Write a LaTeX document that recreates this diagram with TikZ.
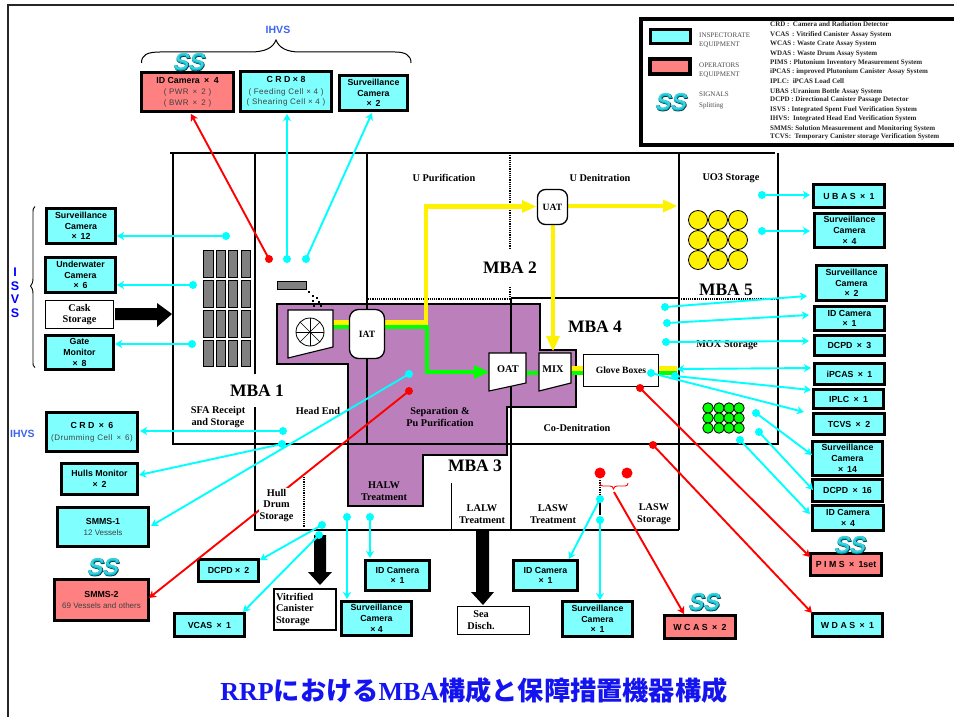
\documentclass[tikz,border=0pt]{standalone}
\usepackage{fontspec}
\setmainfont{Liberation Serif}
\setsansfont{Liberation Sans}
\newfontfamily\cjk{Noto Sans CJK JP}
\newfontface\ssa[FakeSlant=0.22,FakeBold=6.5]{Liberation Sans}
\newfontface\ssb[FakeSlant=0.22,FakeBold=4]{Liberation Sans}
\newfontface\ssc[FakeSlant=0.22]{Liberation Sans}
\usetikzlibrary{arrows.meta}
\definecolor{cyn}{HTML}{00FFFF}
\definecolor{cyfill}{HTML}{80FFFF}
\definecolor{rdfill}{HTML}{FF8080}
\definecolor{purp}{HTML}{BB80BB}
\definecolor{grayb}{HTML}{808080}
\definecolor{blu}{HTML}{3C64F0}
\definecolor{ttl}{HTML}{1414F0}
\definecolor{sstl}{HTML}{00C0D0}
\definecolor{ssdk}{HTML}{103040}
\tikzset{
  cbox/.style={draw=black,line width=3pt,fill=cyfill,inner sep=0pt,align=center,font=\sffamily\bfseries\fontsize{8.8}{10.7}\selectfont},
  rbox/.style={cbox,fill=rdfill},
  wbox/.style={draw=black,line width=1.7pt,fill=white,inner sep=0pt,align=center,font=\bfseries\fontsize{10.3}{11.8}\selectfont},
  pbox/.style={draw=black,line width=1.3pt,fill=white,inner sep=0pt,align=center,font=\bfseries\fontsize{9.6}{10.5}\selectfont},
  lab/.style={inner sep=0pt,align=center,font=\bfseries\fontsize{10.3}{11.7}\selectfont},
  mba/.style={inner sep=0pt,font=\bfseries\fontsize{17.5}{19}\selectfont},
  leg/.style={inner sep=0pt,anchor=base west,font=\bfseries\fontsize{7}{8}\selectfont,text=black!85},
  legl/.style={inner sep=0pt,anchor=base west,font=\fontsize{7}{8}\selectfont,text=black!70},
  wall/.style={line width=2.4pt,black},
  thin wall/.style={line width=1.2pt,black,densely dotted},
  cyline/.style={draw=cyn,line width=1.9pt,-{Stealth[inset=2pt,length=7pt,width=8pt]}},
  rdline/.style={draw=red,line width=1.9pt,-{Stealth[inset=2pt,length=7pt,width=8pt]}},
  cydot/.style={circle,fill=cyn,inner sep=0pt,minimum size=8pt},
  rddot/.style={circle,fill=red,inner sep=0pt,minimum size=8pt},
  bigred/.style={circle,fill=red,inner sep=0pt,minimum size=11pt},
  ylw/.style={draw=yellow,line width=4.5pt},
  grn/.style={draw=green,line width=4.5pt},
  rack/.style={draw=black,line width=.7pt,fill=grayb},
  yball/.style={circle,draw=black,line width=.8pt,fill=yellow,inner sep=0pt,minimum size=19pt},
  gball/.style={circle,draw=black,line width=.8pt,fill=green,inner sep=0pt,minimum size=10.5pt},
}
\newcommand{\subt}{\mdseries\fontsize{8}{10.2}\selectfont\color{black!75}\addfontfeature{LetterSpace=6}}
\newcommand{\X}{\hspace{.5em}×\hspace{.5em}}
\newcommand{\bx}[7]{%
  \pgfmathsetmacro\bw{#4-#2-3}\pgfmathsetmacro\bh{#5-#3-3}%
  \node[#6,minimum width=\bw pt,minimum height=\bh pt] (#1) at ({(#2+#4)/2},{(#3+#5)/2}) {#7};}
\newcommand{\lnk}[7]{% style, dot style, dot name, dx, dy, tx, ty
  \node[#2] (#3) at (#4,#5) {};
  \coordinate (#3t) at (#6,#7);
  \draw[#1] (#3.center) -- (#3t);}
\newcommand{\ssmark}[3]{%
  \node[inner sep=0pt,text=ssdk] (#1a) at (#2+.5,#3+.5) {\fontsize{23}{23}\ssa SS};
  \node[inner sep=0pt,text=sstl] (#1b) at (#2,#3) {\fontsize{23}{23}\ssb SS};
  \node[inner sep=0pt,text=white!25!sstl] (#1c) at (#2,#3) {\fontsize{23}{23}\ssc SS};}
\begin{document}
\begin{tikzpicture}[x=1pt,y=-1pt]
\useasboundingbox (0,0) rectangle (954,717);
\fill[white] (0,0) rectangle (954,717);
% outer frame
\draw[line width=2pt,black!85] (8,717) -- (8,5.5) -- (954,5.5);
% purple area
\draw[line width=1.4pt,black,fill=purp] (277,304) -- (540,304) -- (540,350) -- (576,350) -- (576,407) -- (507,407) -- (507,455) -- (423,455) -- (423,506) -- (348,506) -- (348,364) -- (277,364) -- cycle;
% walls
\draw[wall] (170,153) -- (775,153);
\draw[wall] (173,153) -- (173,444) -- (778,444);
\draw[wall] (778,153) -- (778,445);
\draw[wall] (255,153) -- (255,374);
\draw[wall] (255,407) -- (255,530) -- (679,530);
\draw[wall] (367,153) -- (367,445);
\draw[wall] (679,153) -- (679,530);
\draw[wall] (511,298) -- (679,298);
\draw[wall] (511,298) -- (511,530);
\draw[thin wall] (368,299) -- (511,299);
\draw[thin wall] (679,299) -- (778,299);
\draw[thin wall] (510,153) -- (510,248);
\draw[thin wall] (510,287) -- (510,298);
\draw[thin wall] (304,477) -- (304,527);
\draw[black,line width=1pt] (451,483) -- (451,530);
% spent fuel racks
\foreach \xa/\xb in {203/213,216/225,228/237,241/250}
  \foreach \ya/\yb in {250/277,280/307,310/337,340/366}
    \draw[rack] (\xa,\ya) rectangle (\xb,\yb);
\draw[rack] (277.5,281) rectangle (306,289);
\foreach \px/\py in {309/292,313/296,317/298,313/301,319/302,317/304,314/306,321/306}
  \fill[black] (\px-1.2,\py-1.2) rectangle (\px+1.2,\py+1.2);
% process streams
\draw[ylw] (333,322.5) -- (349,322.5);
\draw[grn] (333,327) -- (349,327);
\draw[ylw] (385,322.5) -- (426,322.5) -- (426,206.5) -- (525,206.5);
\draw[grn] (385,327) -- (427,327) -- (427,372) -- (476,372);
\fill[green] (489,372) -- (474,365) -- (474,379) -- cycle;
\fill[yellow] (536,206.5) -- (522,200) -- (522,213) -- cycle;
\draw[ylw] (568,206) -- (665,206);
\fill[yellow] (677,206) -- (663,199.5) -- (663,212.5) -- cycle;
\draw[ylw] (553,225) -- (553,338);
\fill[yellow] (553,351) -- (546,336) -- (560,336) -- cycle;
\draw[grn] (526,373) -- (539,373);
\draw[ylw] (571,368.5) -- (583,368.5);
\draw[grn] (571,373) -- (583,373);
\draw[ylw] (659,368.5) -- (677,368.5);
\draw[grn] (659,373) -- (677,373);
% equipment in the cell
\draw[line width=1.1pt,black,fill=white] (288,310) -- (333,310) -- (333,347) -- (288,358) -- cycle;
\draw[black,line width=.8pt] (310,332) circle (14);
\foreach \a in {0,45,...,135} \draw[black,line width=.7pt] ({310+14*cos(\a)},{332+14*sin(\a)}) -- ({310-14*cos(\a)},{332-14*sin(\a)});
\node[pbox,rounded corners=9pt,minimum width=35pt,minimum height=49pt] (iat) at (367,334) {IAT};
\node[pbox,rounded corners=8pt,minimum width=30pt,minimum height=35pt] (uat) at (552.5,207) {UAT};
\draw[line width=1.1pt,black,fill=white] (489,353) -- (526,353) -- (526,383) -- (489,391) -- cycle;
\node[lab] (oat) at (508,369) {OAT};
\draw[line width=1.1pt,black,fill=white] (539,353) -- (571,353) -- (571,383) -- (539,391) -- cycle;
\node[lab] (mix) at (553,369) {MIX};
\node[pbox,minimum width=75pt,minimum height=32pt] (glove) at (621,370.5) {Glove Boxes};
% storage items
\foreach \cx in {698,718,738} \foreach \cy in {220,240,260} \node[yball] at (\cx,\cy) {};
\foreach \cx in {708,719,729,739} \foreach \cy in {408,418,428} \node[gball] at (\cx,\cy) {};
% black arrows
\fill[black] (115,308) -- (157,308) -- (157,303) -- (172,314) -- (157,327) -- (157,320) -- (115,320) -- cycle;
\fill[black] (314,535) -- (326,535) -- (326,572) -- (332,572) -- (320,585) -- (308,572) -- (314,572) -- cycle;
\fill[black] (476,531) -- (489,531) -- (489,592) -- (494,592) -- (483,605) -- (471,592) -- (476,592) -- cycle;
% zone labels
\node[lab] (l1) at (444,178) {U Purification};
\node[lab] (l2) at (600,178) {U Denitration};
\node[lab] (l3) at (731,178) {UO3 Storage};
\node[lab] (l4) at (727,345) {MOX Storage};
\node[lab] (l5) at (218,417) {SFA Receipt\\and Storage};
\node[lab] (l6) at (318,411) {Head End};
\node[lab] (l7) at (440,417) {Separation \&\\Pu Purification};
\node[lab] (l8) at (384,491) {HALW\\Treatment};
\node[lab] (l9) at (482,514) {LALW\\Treatment};
\node[lab] (l10) at (553,514) {LASW\\Treatment};
\node[lab] (l11) at (654,514) {LASW\\Storage};
\node[lab] (l12) at (577,428) {Co-Denitration};
\node[mba] (m1) at (257,391) {MBA 1};
\node[mba] (m2) at (510,268) {MBA 2};
\node[mba] (m3) at (475,466) {MBA 3};
\node[mba] (m4) at (595,327) {MBA 4};
\node[mba] (m5) at (726,290) {MBA 5};
% boxes
\bx{b1}{140}{71}{235}{113}{rbox}{ID Camera\X 4\\[1pt]{\subt ( PWR\X 2 )}\\{\subt ( BWR\X 2 )}}
\bx{b2}{239}{70}{333}{113}{cbox}{C R D × 8\\[1pt]{\subt ( Feeding Cell × 4 )}\\{\subt ( Shearing Cell × 4 )}}
\bx{b3}{338}{74}{409}{112}{cbox}{Surveillance\\Camera\\× \,2}
\bx{b4}{45}{207}{117}{245}{cbox}{Surveillance\\Camera\\× \,12}
\bx{b5}{44}{256}{117}{294}{cbox}{Underwater\\Camera\\× \,6}
\bx{b6}{44}{299}{115}{330}{wbox}{Cask\\Storage}
\bx{b7}{44}{334}{115}{371}{cbox}{Gate\\Monitor\\× \,8}
\bx{b8}{45}{411}{139}{453}{cbox}{C R D\X 6\\[1pt]{\subt (Drumming Cell\X 6)}}
\bx{b9}{60}{462}{139}{496}{cbox}{Hulls Monitor\\× \,2}
\bx{b10}{56}{506}{150}{548}{cbox}{SMMS-1\\[1pt]{\subt\addfontfeature{LetterSpace=0} 12 Vessels}}
\bx{b11}{53}{578}{150}{622}{rbox}{SMMS-2\\[1pt]{\subt\addfontfeature{LetterSpace=0} 69 Vessels and others}}
\bx{b12}{197}{558}{260}{583}{cbox}{DCPD × \,2}
\bx{b13}{173}{612}{246}{638}{cbox}{VCAS\X 1}
\node[wbox,minimum width=62pt,minimum height=41pt,align=left,text width=58pt] (b14) at (305,609.5) {Vitrified\\Canister\\Storage};
\bx{b15}{340}{600}{413}{637}{cbox}{Surveillance\\Camera\\× 4}
\bx{b16}{364}{559}{431}{592}{cbox}{ID Camera\\× \,1}
\node[wbox,minimum width=72pt,minimum height=28pt] (b17) at (493.5,620.5) {};
\node[lab] (b17t) at (481,620) {Sea\\Disch.};
\bx{b18}{512}{559}{579}{592}{cbox}{ID Camera\\× \,1}
\bx{b19}{561}{600}{634}{638}{cbox}{Surveillance\\Camera\\× \,1}
\bx{b20}{663}{614}{737}{640}{rbox}{W C A S\X 2}
\bx{b21}{811}{612}{884}{638}{cbox}{W D A S\X 1}
\bx{b22}{809}{552}{883}{577}{rbox}{P I M S\X 1set}
\bx{b23}{811}{504}{885}{532}{cbox}{ID Camera\\× \,4}
\bx{b24}{811}{478}{884}{503}{cbox}{DCPD\X 16}
\bx{b25}{811}{440}{884}{477}{cbox}{Surveillance\\Camera\\× \,14}
\bx{b26}{812}{412}{886}{436}{cbox}{TCVS\X 2}
\bx{b27}{812}{388}{885}{410}{cbox}{IPLC\X 1}
\bx{b28}{813}{362}{886}{386}{cbox}{iPCAS\X 1}
\bx{b29}{813}{334}{886}{357}{cbox}{DCPD\X 3}
\bx{b30}{813}{305}{886}{332}{cbox}{ID Camera\\× \,1}
\bx{b31}{815}{264}{888}{302}{cbox}{Surveillance\\Camera\\× \,2}
\bx{b32}{813}{212}{886}{249}{cbox}{Surveillance\\Camera\\× \,4}
\bx{b33}{812}{183}{886}{209}{cbox}{U B A S\X 1}
% braces and side labels
\draw[black,line width=1pt] (141.5,63) .. controls (141.5,55) and (147,52) .. (160,52) -- (250,52) .. controls (265,52) and (273,48) .. (276,40) .. controls (279,48) and (287,52) .. (300,52) -- (395,52) .. controls (405,52) and (411,55) .. (411,63);
\draw[black,line width=.9pt] (35,206.5) .. controls (33,207) and (33,210) .. (33,214) -- (33,278) .. controls (33,282) and (32,285) .. (30.5,286) .. controls (32,287) and (33,290) .. (33,294) -- (33,360) .. controls (33,365) and (33,367) .. (35,367.5);
\node[inner sep=0pt,text=blu,font=\sffamily\bfseries\fontsize{10.5}{12}\selectfont] (ih1) at (278,30) {IHVS};
\node[inner sep=0pt,text=blu,font=\sffamily\bfseries\fontsize{10.5}{12}\selectfont] (ih2) at (22.5,433.5) {IHVS};
\foreach \ch/\yy in {I/272,S/286,V/299,S/313} \node[inner sep=0pt,text=blue,font=\sffamily\bfseries\fontsize{12.5}{13}\selectfont] at (15,\yy) {\ch};
% connectors
\lnk{rdline}{rddot}{d1}{269}{259}{191}{114}
\lnk{cyline}{cydot}{d2}{287}{259}{287}{114}
\lnk{cyline}{cydot}{d3}{306}{259}{372}{113}
\lnk{cyline}{cydot}{d4}{226}{236}{117}{236}
\lnk{cyline}{cydot}{d5}{193}{285}{117}{285}
\lnk{cyline}{cydot}{d6}{192}{344}{115}{344}
\lnk{cyline}{cydot}{d7}{283}{431}{140}{431}
\lnk{cyline}{cydot}{d8}{282}{444}{139}{475}
\lnk{cyline}{cydot}{d9}{409}{374}{151}{526}
\lnk{rdline}{rddot}{d10}{409}{391}{149}{598}
\lnk{cyline}{cydot}{d11}{322}{525}{260}{560}
\lnk{cyline}{cydot}{d12}{319}{535}{243}{612}
\lnk{cyline}{cydot}{d13}{347}{517}{347}{599}
\lnk{cyline}{cydot}{d14}{370}{517}{370}{558}
\draw[black,line width=1.3pt,densely dotted] (600,480) -- (600,500);
\draw[black,line width=1.3pt] (600,500) -- (600,515);
\lnk{cyline}{cydot}{d15}{600}{499}{569}{559}
\lnk{cyline}{cydot}{d16}{600}{520}{600}{600}
\node[bigred] (r1) at (600,473) {};
\node[bigred] (r2) at (627,473) {};
\draw[red,line width=.9pt] (600,483) .. controls (600,485) and (601,486) .. (603,486) -- (610,486) .. controls (612,486) and (613,487) .. (613.5,489) .. controls (614,487) and (615,486) .. (617,486) -- (625,486) .. controls (627,486) and (628,485) .. (628,483);
\coordinate (r3s) at (614,492);
\coordinate (r3t) at (684,614);
\draw[rdline] (r3s) -- (r3t);
\lnk{rdline}{rddot}{d17}{640}{388}{810}{557}
\lnk{rdline}{rddot}{d18}{653}{445}{812}{613}
\lnk{cyline}{cydot}{d19}{762}{195}{810}{195}
\lnk{cyline}{cydot}{d20}{762}{231}{810}{231}
\lnk{cyline}{cydot}{d21}{665}{307}{807}{296}
\lnk{cyline}{cydot}{d22}{667}{323}{809}{315}
\lnk{cyline}{cydot}{d23}{666}{342}{809}{341}
\coordinate (e1) at (677,369);
\coordinate (e2) at (811,368);
\draw[cyline,{Stealth[inset=2pt,length=7pt,width=8pt]}-{Stealth[inset=2pt,length=7pt,width=8pt]}] (e1) -- (e2);
\lnk{cyline}{cydot}{d24}{675}{376}{811}{390}
\lnk{cyline}{cydot}{d25}{651}{373}{804}{412}
\lnk{cyline}{cydot}{d26}{756}{413}{812}{455}
\lnk{cyline}{cydot}{d27}{759}{432}{813}{490}
\lnk{cyline}{cydot}{d28}{740}{440}{810}{514}
% hull label over the red line
\node[inner sep=1pt,fill=white,align=center,font=\bfseries\fontsize{10.3}{11.7}\selectfont] (hull) at (276.5,505.5) {Hull\\Drum\\Storage};
% SS marks
\ssmark{s1}{188}{62}
\ssmark{s2}{102}{567}
\ssmark{s3}{849}{545}
\ssmark{s4}{703}{602}
% legend
\draw[black,line width=4pt,fill=white] (641,19) rectangle (960,144.5);
\node[draw=black,line width=3.5pt,fill=cyfill,inner sep=0pt,minimum width=40pt,minimum height=14pt] (lc) at (670.5,36.5) {};
\node[draw=black,line width=3.5pt,fill=rdfill,inner sep=0pt,minimum width=40pt,minimum height=15pt] (lr) at (670,66.5) {};
\ssmark{s6}{670}{102}
\node[legl] at (699,38) {INSPECTORATE};
\node[legl] at (699,47) {EQUIPMENT};
\node[legl] at (699,67) {OPERATORS};
\node[legl] at (699,77) {EQUIPMENT};
\node[legl] at (699,97) {SIGNALS};
\node[legl] at (699,107) {Splitting};
\node[leg] at (770,27) {CRD :\ \ Camera and Radiation Detector};
\node[leg] at (770,37) {VCAS \,: Vitrified Canister Assay System};
\node[leg] at (770,46) {WCAS : Waste Crate Assay System};
\node[leg] at (770,55.5) {WDAS : Waste Drum Assay System};
\node[leg] at (770,65) {PIMS : Plutonium Inventory Measurement System};
\node[leg] at (770,74) {iPCAS : improved Plutonium Canister Assay System};
\node[leg] at (770,83.5) {IPLC:\ \ iPCAS Load Cell};
\node[leg] at (770,93) {UBAS :Uranium Bottle Assay System};
\node[leg] at (770,102) {DCPD :\ Directional Canister Passage Detector};
\node[leg] at (770,111) {ISVS :\ Integrated Spent Fuel Verification System};
\node[leg] at (770,120.5) {IHVS:\ \ Integrated Head End Verification System};
\node[leg] at (770,130) {SMMS: Solution Measurement and Monitoring System};
\node[leg] at (770,139) {TCVS:\ \ Temporary Canister storage Verification System};
% title
\node[inner sep=0pt,text=ttl] (title) at (474,691) {\fontsize{26}{28}\selectfont\bfseries RRP{\fontsize{26.2}{28}\cjk\bfseries における}MBA{\fontsize{26.2}{28}\cjk\bfseries 構成と保障措置機器構成}};
\end{tikzpicture}
\end{document}
